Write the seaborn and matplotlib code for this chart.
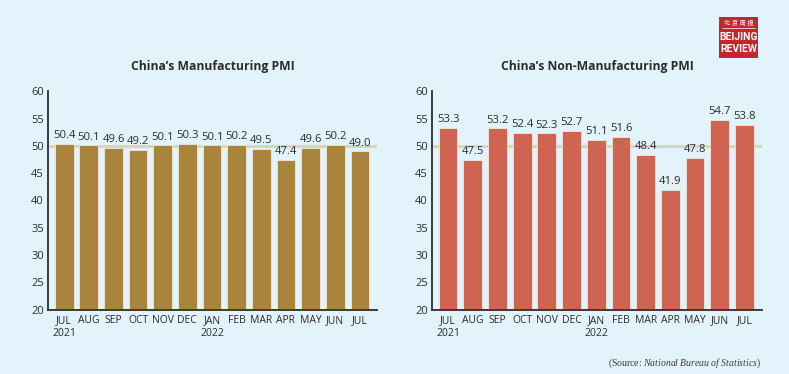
import matplotlib
matplotlib.use("Agg")
import matplotlib.pyplot as plt
import numpy as np
import pandas as pd
import seaborn as sns
from matplotlib.patches import Rectangle

months = ["JUL\n2021", "AUG", "SEP", "OCT", "NOV", "DEC", "JAN\n2022",
          "FEB", "MAR", "APR", "MAY", "JUN", "JUL"]
manufacturing = [50.4, 50.1, 49.6, 49.2, 50.1, 50.3, 50.1, 50.2, 49.5, 47.4, 49.6, 50.2, 49.0]
non_manufacturing = [53.3, 47.5, 53.2, 52.4, 52.3, 52.7, 51.1, 51.6, 48.4, 41.9, 47.8, 54.7, 53.8]
yticks = [20, 25, 30, 35, 40, 45, 50, 55, 60]

bg = "#e3f3fb"
txt = "#2b2b2b"

sns.set_style("white")
plt.rcParams["font.family"] = ["Open Sans", "DejaVu Sans"]
plt.rcParams["mathtext.fontset"] = "custom"
plt.rcParams["mathtext.rm"] = "Liberation Serif"
plt.rcParams["mathtext.it"] = "Liberation Serif:italic"

df = pd.DataFrame({"month": months, "mfg": manufacturing, "nonmfg": non_manufacturing})

fig = plt.figure(figsize=(7.89, 3.74), dpi=100, facecolor=bg)
ax1 = fig.add_axes([0.061, 0.172, 0.417, 0.584])
ax2 = fig.add_axes([0.5475, 0.172, 0.418, 0.584])

panels = [
    (ax1, "mfg", "#a8843c", "China\u2019s Manufacturing PMI"),
    (ax2, "nonmfg", "#d06453", "China\u2019s Non-Manufacturing PMI"),
]

for ax, col, color, title in panels:
    ax.set_facecolor(bg)
    ax.axhline(50, color="#ddd3a9", lw=2, zorder=0.5)
    sns.barplot(data=df, x="month", y=col, color=color, saturation=1,
                width=0.76, edgecolor="#efe9dc", linewidth=0.6, ax=ax, zorder=2)
    for i, v in enumerate(df[col]):
        ax.text(i, v + 0.5, f"{v:.1f}", ha="center", va="bottom",
                fontsize=8.1, color=txt, zorder=3)
    ax.set_ylim(20, 60)
    ax.set_xlim(-0.65, 12.7)
    ax.set_yticks(yticks)
    ax.set_xlabel("")
    ax.set_ylabel("")
    ax.tick_params(axis="both", length=0, labelsize=8, colors=txt, pad=3)
    ax.tick_params(axis="x", labelsize=7.5, pad=4)
    for s in ["top", "right"]:
        ax.spines[s].set_visible(False)
    for s in ["left", "bottom"]:
        ax.spines[s].set_color("#3a3a3a")
        ax.spines[s].set_linewidth(1.4)
    ax.set_title(title, fontsize=8.7, fontweight="bold", color=txt, pad=15)

# logo
fig.patches.append(Rectangle((719 / 789, 1 - 58 / 374), 39 / 789, 41 / 374,
                             transform=fig.transFigure, facecolor="#c5262c",
                             edgecolor="none"))
fig.text(738.5 / 789, 1 - 22.5 / 374, "北 京 周 报", ha="center", va="center",
         fontsize=4.6, color="white", family=["Noto Sans CJK SC"])
fig.add_artist(plt.Line2D([722 / 789, 755 / 789], [1 - 28 / 374, 1 - 28 / 374],
                          transform=fig.transFigure, color="white", lw=0.5))
fig.text(738.5 / 789, 1 - 37 / 374, "BEIJING", ha="center", va="center",
         fontsize=7.5, fontweight="bold", color="white", family=["Roboto", "DejaVu Sans"])
fig.text(738.5 / 789, 1 - 49 / 374, "REVIEW", ha="center", va="center",
         fontsize=7.5, fontweight="bold", color="white", family=["Roboto", "DejaVu Sans"])

fig.text(761 / 789, 1 - 363 / 374,
         r"(Source: $\mathit{National\ Bureau\ of\ Statistics}$)",
         ha="right", va="center", fontsize=7, color="#3a3a3a",
         family=["Liberation Serif"])

fig.savefig("out.png", dpi=100, facecolor=bg)
